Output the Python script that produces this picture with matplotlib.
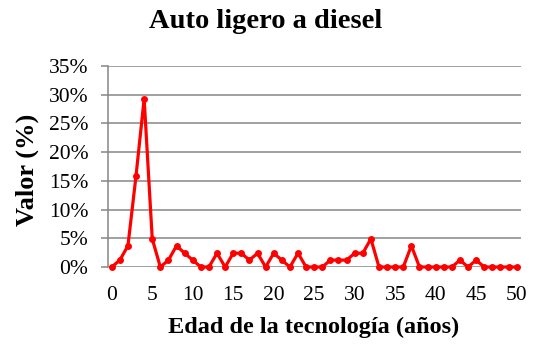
import matplotlib.pyplot as plt
from matplotlib.ticker import FuncFormatter

# Distribution of light diesel vehicles by technology age (%)
edad = list(range(0, 51))
valor = [
    0.0, 1.2, 3.7, 15.9, 29.3, 4.9, 0.0, 1.2, 3.7, 2.4,
    1.2, 0.0, 0.0, 2.4, 0.0, 2.4, 2.4, 1.2, 2.4, 0.0,
    2.4, 1.2, 0.0, 2.4, 0.0, 0.0, 0.0, 1.2, 1.2, 1.2,
    2.4, 2.4, 4.9, 0.0, 0.0, 0.0, 0.0, 3.7, 0.0, 0.0,
    0.0, 0.0, 0.0, 1.2, 0.0, 1.2, 0.0, 0.0, 0.0, 0.0,
    0.0,
]
y_ticks = [0, 5, 10, 15, 20, 25, 30, 35]
x_ticks = [0, 5, 10, 15, 20, 25, 30, 35, 40, 45, 50]

plt.rcParams['font.family'] = ['Liberation Serif', 'DejaVu Serif']

W, H = 534, 345
fig = plt.figure(figsize=(W / 100, H / 100), dpi=100)
ax = fig.add_axes([107.7 / W, 1 - 267 / H, 413 / W, 201 / H])

ax.plot(edad, valor, color='#ff0000', linewidth=2.3, marker='o',
        markersize=5, markeredgewidth=0, zorder=3, clip_on=False)

ax.set_xlim(-0.5, 50.5)
ax.set_ylim(0, 35)
ax.set_yticks(y_ticks)
ax.yaxis.set_major_formatter(FuncFormatter(lambda v, p: f'{v:.0f}%'))
ax.set_xticks(x_ticks)
ax.set_xticklabels([str(t) for t in x_ticks])

ax.grid(axis='y', color='#868686', linewidth=1.1)
ax.set_axisbelow(True)
for side in ['top', 'right', 'bottom']:
    ax.spines[side].set_visible(False)
ax.spines['left'].set_color('#868686')
ax.spines['left'].set_linewidth(1.1)

ax.tick_params(axis='y', length=5, width=1.1, color='#868686', pad=9,
               labelsize=15.5)
ax.tick_params(axis='x', length=0, pad=14, labelsize=15.5)

# titles placed in figure pixel coordinates
fig.text(266 / W, 1 - 28 / H, 'Auto ligero a diesel', fontsize=20.5,
         fontweight='bold', ha='center', va='baseline')
fig.text(314 / W, 1 - 333 / H, 'Edad de la tecnología (años)', fontsize=17.5,
         fontweight='bold', ha='center', va='baseline')
fig.text(34 / W, 1 - 170 / H, 'Valor (%)', fontsize=19, fontweight='bold',
         rotation=90, ha='center', va='baseline', rotation_mode='anchor')

fig.savefig('out.png', dpi=100)
